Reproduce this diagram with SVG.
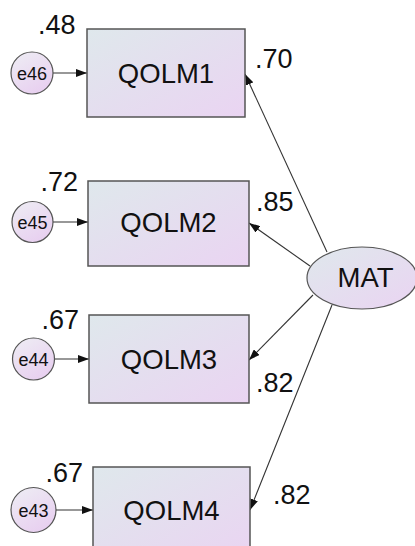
<svg xmlns="http://www.w3.org/2000/svg" width="415" height="546" viewBox="0 0 415 546">
  <defs>
    <linearGradient id="fillGrad" x1="0" y1="0" x2="1" y2="1">
      <stop offset="0" stop-color="#dfe8ec"/>
      <stop offset="1" stop-color="#ead4f2"/>
    </linearGradient>
    <linearGradient id="errGrad" x1="0" y1="0" x2="0.6" y2="1">
      <stop offset="0" stop-color="#eeeef4"/>
      <stop offset="1" stop-color="#e8d0f0"/>
    </linearGradient>
    <marker id="arrow" markerUnits="userSpaceOnUse" markerWidth="11" markerHeight="8" refX="11" refY="4" orient="auto">
      <path d="M0,0 L11,4 L0,8 z" fill="#111"/>
    </marker>
  </defs>
  <style>
    .box { fill: url(#fillGrad); stroke: #555; stroke-width: 1.5; }
    .lat { fill: url(#fillGrad); stroke: #555; stroke-width: 1.2; }
    .err { fill: url(#errGrad); stroke: #555; stroke-width: 1.2; }
    .lbl { font-family: "Liberation Sans", Arial, sans-serif; fill: #111; }
    .big { font-size: 27.5px; text-anchor: middle; }
    .num { font-size: 27px; }
    .small { font-size: 18px; text-anchor: middle; }
    .edge { stroke: #333; stroke-width: 1.1; fill: none; marker-end: url(#arrow); }
  </style>
  <rect width="415" height="546" fill="#ffffff"/>

  <g id="connectors">
    <line class="edge" x1="53" y1="73" x2="87" y2="73"/>
    <line class="edge" x1="53" y1="222" x2="88" y2="222"/>
    <line class="edge" x1="54.5" y1="359" x2="89" y2="359"/>
    <line class="edge" x1="56" y1="510" x2="93" y2="510"/>
    <line class="edge" x1="327" y1="252" x2="245" y2="74"/>
    <line class="edge" x1="310" y1="266" x2="249" y2="223"/>
    <line class="edge" x1="313" y1="295" x2="249" y2="360"/>
    <line class="edge" x1="332" y1="305" x2="250" y2="510"/>
  </g>

  <g id="QOLM1">
    <rect class="box" x="87" y="29" width="158" height="88"/>
    <text class="lbl big" x="166" y="83">QOLM1</text>
  </g>
  <g id="QOLM2">
    <rect class="box" x="88" y="181" width="161" height="85"/>
    <text class="lbl big" x="168.5" y="232">QOLM2</text>
  </g>
  <g id="QOLM3">
    <rect class="box" x="89" y="315" width="160" height="88"/>
    <text class="lbl big" x="169" y="369">QOLM3</text>
  </g>
  <g id="QOLM4">
    <rect class="box" x="93" y="467" width="157" height="92"/>
    <text class="lbl big" x="171.5" y="520">QOLM4</text>
  </g>

  <g id="MAT">
    <ellipse class="lat" cx="362" cy="278" rx="55" ry="31"/>
    <text class="lbl big" x="365.5" y="287">MAT</text>
  </g>

  <g id="e46">
    <circle class="err" cx="32" cy="73" r="21"/>
    <text class="lbl small" x="32" y="79.5">e46</text>
  </g>
  <g id="e45">
    <circle class="err" cx="32.5" cy="222" r="20.5"/>
    <text class="lbl small" x="32.5" y="228.5">e45</text>
  </g>
  <g id="e44">
    <circle class="err" cx="33.5" cy="359" r="21"/>
    <text class="lbl small" x="33.5" y="365.5">e44</text>
  </g>
  <g id="e43">
    <circle class="err" cx="33.5" cy="510" r="22.5"/>
    <text class="lbl small" x="33.5" y="516.5">e43</text>
  </g>

  <g id="estimates">
    <text class="lbl num" x="38" y="34">.48</text>
    <text class="lbl num" x="40.5" y="190.5">.72</text>
    <text class="lbl num" x="41.5" y="329">.67</text>
    <text class="lbl num" x="45.5" y="481.5">.67</text>
    <text class="lbl num" x="255" y="68">.70</text>
    <text class="lbl num" x="256" y="210.5">.85</text>
    <text class="lbl num" x="256" y="391.5">.82</text>
    <text class="lbl num" x="273" y="504">.82</text>
  </g>
</svg>
